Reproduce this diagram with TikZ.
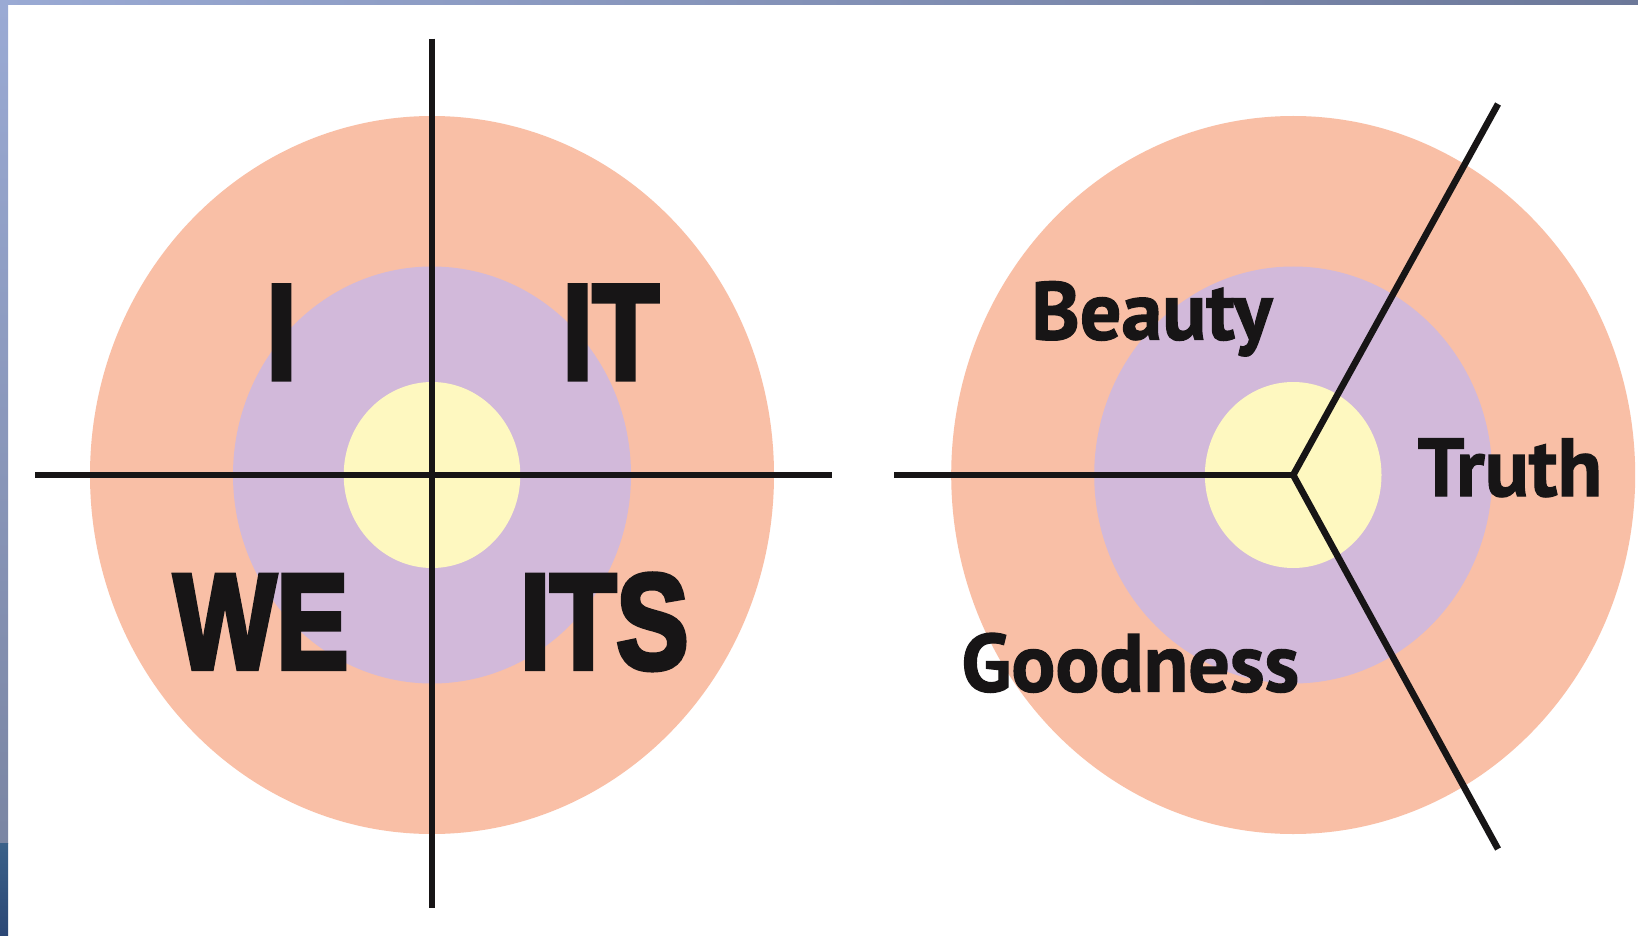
\documentclass[tikz,border=0pt]{standalone}
\usepackage{fontspec}
\usepackage{tikz}
\newfontfamily\quadfont[BoldFeatures={FakeBold=4}]{Liberation Sans}
\newfontfamily\valuefont[BoldFeatures={FakeBold=1.5}]{PT Sans}
\definecolor{ringout}{HTML}{F9BFA6}
\definecolor{ringmid}{HTML}{D2B9DA}
\definecolor{ringin}{HTML}{FEF8C0}
\definecolor{inkline}{HTML}{171516}
\definecolor{frametop}{HTML}{9AAAD4}
\definecolor{frameend}{HTML}{6C7899}
\definecolor{framelow}{HTML}{3B6189}
\definecolor{framebot}{HTML}{2B4775}
\tikzset{
	axis/.style={draw=inkline,line width=3.3pt},
	quadlbl/.style={inner sep=0pt,anchor=base,xscale=0.8,text=inkline,
		font=\quadfont\bfseries\fontsize{67.7}{70}\selectfont},
	vallbl/.style={inner sep=0pt,anchor=base west,text=inkline,
		font=\valuefont\bfseries\fontsize{41}{44}\selectfont}
}
\begin{document}
\begin{tikzpicture}[x=0.5pt,y=-0.5pt,
			outer/.style={fill=ringout},
			middle/.style={fill=ringmid},
			inner/.style={fill=ringin}]
			\useasboundingbox (0,0) rectangle (1638,936);
			\fill[white] (0,0) rectangle (1638,936);
			% frame
			\shade[left color=frametop,right color=frameend] (0,0) rectangle (1638,5);
			\shade[top color=frametop,bottom color=frameend!90] (0,5) rectangle (8,843);
			\shade[top color=framelow,bottom color=framebot] (0,843) rectangle (8,936);
			% the two discs
			\foreach \cx in {432,1293.2} {
				\fill[outer] (\cx,475) ellipse [x radius=342,y radius=359];
				\fill[middle] (\cx,475) ellipse [x radius=199,y radius=208.5];
				\fill[inner] (\cx,475) ellipse [x radius=88.3,y radius=93];
			}
			% quadrants
			\coordinate (qc) at (432,475);
			\coordinate (qw) at (35,475);
			\coordinate (qe) at (832,475);
			\coordinate (qn) at (432,38.7);
			\coordinate (qs) at (432,908);
			\draw[axis] (qw) -- (qe);
			\draw[axis] (qn) -- (qs);
			\node[quadlbl] (ilbl) at (281.5,379) {I};
			\node[quadlbl] (itlbl) at (610.6,379) {IT};
			\node[quadlbl] (welbl) at (261.2,668.5) {WE};
			\node[quadlbl] (itslbl) at (604.3,668.5) {ITS};
			% three values
			\coordinate (vc) at (1293.2,475);
			\coordinate (vw) at (894,475);
			\coordinate (vn) at (1498,104);
			\coordinate (vs) at (1498,849);
			\draw[axis] (vw) -- (vc);
			\draw[axis] (vn) -- (vc) -- (vs);
			\node[vallbl] (beauty) at (1031,339.5) {Beauty};
			\node[vallbl] (truth) at (1417.5,496) {Truth};
			\node[vallbl] (good) at (961,691.5) {Goodness};
		\end{tikzpicture}
\end{document}
